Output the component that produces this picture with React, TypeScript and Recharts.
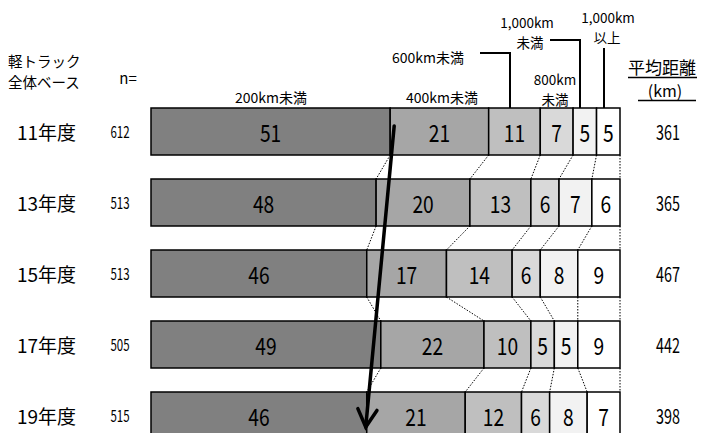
import { Bar, BarChart, LabelList, XAxis, YAxis } from 'recharts'

const years = ['11年度', '13年度', '15年度', '17年度', '19年度']
const sampleN = [612, 513, 513, 505, 515]
const avgKm = [361, 365, 467, 442, 398]
const under200 = [51, 48, 46, 49, 46]
const under400 = [21, 20, 17, 22, 21]
const under600 = [11, 13, 14, 10, 12]
const under800 = [7, 6, 6, 5, 6]
const under1000 = [5, 7, 8, 5, 8]
const over1000 = [5, 6, 9, 9, 7]

const segKeys = ['s200', 's400', 's600', 's800', 's1000', 's1000p']
const segColors = ['#808080', '#a6a6a6', '#bfbfbf', '#d9d9d9', '#f2f2f2', '#ffffff']

type Row = { year: string; n: number; avg: number; [k: string]: string | number }

const rows: Row[] = years.map((year, i) => ({
  year,
  n: sampleN[i],
  avg: avgKm[i],
  s200: under200[i],
  s400: under400[i],
  s600: under600[i],
  s800: under800[i],
  s1000: under1000[i],
  s1000p: over1000[i],
}))

const W = 703
const H = 460
const M = { top: 96, right: 0, left: 0, bottom: 9 }
const STEP = (H - M.top - M.bottom) / rows.length

const FONT = "'Noto Sans CJK JP', 'Noto Sans', sans-serif"

const cumTo = (r: Row, k: number) =>
  segKeys.slice(0, k + 1).reduce((s, key) => s + (r[key] as number), 0)

// narrow digits like the original's gothic font
function NarrowText({ x, y, size, sx = 0.78, anchor = 'middle', children }: any) {
  return (
    <g transform={`translate(${x},${y}) scale(${sx},1)`}>
      <text x={0} y={0} dominantBaseline="central" textAnchor={anchor} fontSize={size} fill="#000" fontFamily={FONT}>
        {children}
      </text>
    </g>
  )
}

function makeShape(k: number) {
  return function SegShape(props: any) {
    const { x, y, width, height, index, payload } = props
    const ppu = width / (payload[segKeys[k]] as number)
    const left = x + width - cumTo(payload, k) * ppu
    const next = rows[index + 1]
    let arrow = null
    if (k === segKeys.length - 1 && index === 0) {
      const last = rows[rows.length - 1]
      const x1 = left + (payload.s200 as number) * ppu + 4
      const y1 = y + 18
      const x2 = left + (last.s200 as number) * ppu - 1
      const y2 = y + (rows.length - 1) * STEP + 35
      const ang = Math.atan2(y2 - y1, x2 - x1)
      const len = 20
      const spread = 0.5
      const wing = (s: number) => [
        x2 - len * Math.cos(ang + s * spread),
        y2 - len * Math.sin(ang + s * spread),
      ]
      const [ax, ay] = wing(1)
      const [bx, by] = wing(-1)
      arrow = (
        <g stroke="#000" strokeWidth={3.5} fill="none" strokeLinecap="round">
          <line x1={x1} y1={y1} x2={x2} y2={y2} />
          <polyline points={`${ax},${ay} ${x2},${y2} ${bx},${by}`} strokeLinejoin="miter" />
        </g>
      )
    }
    return (
      <g>
        <rect x={x} y={y} width={width} height={height} fill={props.fill} stroke="#000" strokeWidth={1.5} />
        {next && (
          <line
            x1={x + width}
            y1={y + height}
            x2={left + cumTo(next, k) * ppu}
            y2={y + STEP}
            stroke="#000"
            strokeWidth={1}
            strokeDasharray="1.5 1.5"
          />
        )}
        {arrow}
      </g>
    )
  }
}

function LeftTick({ y, payload }: any) {
  const r = rows[payload.index]
  return (
    <g>
      <text x={17} y={y} dominantBaseline="central" fontSize={19} fill="#000" fontFamily={FONT}>
        {payload.value}
      </text>
      <NarrowText x={120} y={y} size={16} sx={0.72}>
        {r.n}
      </NarrowText>
    </g>
  )
}

function RightTick({ y, payload }: any) {
  return (
    <NarrowText x={668} y={y} size={20} sx={0.72}>
      {payload.value}
    </NarrowText>
  )
}

function SegLabel(props: any) {
  const { x, y, width, height, value } = props
  return (
    <NarrowText x={x + width / 2} y={y + height / 2} size={24} sx={0.8}>
      {value}
    </NarrowText>
  )
}

function Header() {
  const t = { fill: '#000', fontFamily: FONT, dominantBaseline: 'central' as const, textAnchor: 'middle' as const }
  return (
    <svg width={W} height={110} style={{ position: 'absolute', left: 0, top: 0, pointerEvents: 'none' }}>
      <text {...t} x={8} y={60} textAnchor="start" fontSize={14.5}>軽トラック</text>
      <text {...t} x={8} y={81} textAnchor="start" fontSize={14.5}>全体ベース</text>
      <text {...t} x={128} y={77} fontSize={15}>n=</text>
      <text {...t} x={271} y={97} fontSize={14}>200km未満</text>
      <text {...t} x={442} y={97} fontSize={14}>400km未満</text>
      <text {...t} x={428} y={57} fontSize={14}>600km未満</text>
      <text {...t} x={555} y={79} fontSize={13.5}>800km</text>
      <text {...t} x={555} y={99} fontSize={13.5}>未満</text>
      <text {...t} x={527} y={22} fontSize={13.5}>1,000km</text>
      <text {...t} x={530} y={42} fontSize={13.5}>未満</text>
      <text {...t} x={608} y={17} fontSize={13.5}>1,000km</text>
      <text {...t} x={607} y={37} fontSize={13.5}>以上</text>
      <text {...t} x={662} y={66} fontSize={17}>平均距離</text>
      <text {...t} x={665} y={90} fontSize={16}>(km)</text>
      <g stroke="#000" strokeWidth={2} fill="none">
        <polyline points="480,53 510,53 510,108" />
        <polyline points="550,40 580,40 580,108" />
        <line x1={604} y1={48} x2={604} y2={108} />
      </g>
      <g stroke="#000" strokeWidth={1.5}>
        <line x1={628} y1={77.5} x2={697} y2={77.5} />
        <line x1={638} y1={100.5} x2={696} y2={100.5} />
      </g>
    </svg>
  )
}

export default function App() {
  return (
    <div style={{ position: 'absolute', left: 0, top: 0, width: W, height: H, background: '#fff', fontFamily: FONT }}>
      <BarChart width={W} height={H} data={rows} layout="vertical" margin={M} barSize={47}>
        <XAxis type="number" domain={[0, 100]} hide />
        <YAxis
          yAxisId="l"
          type="category"
          dataKey="year"
          width={151}
          axisLine={false}
          tickLine={false}
          tick={<LeftTick />}
        />
        <YAxis
          yAxisId="r"
          type="category"
          dataKey="avg"
          orientation="right"
          width={83}
          axisLine={false}
          tickLine={false}
          tick={<RightTick />}
        />
        {segKeys.map((key, k) => (
          <Bar
            key={key}
            yAxisId="l"
            dataKey={key}
            stackId="a"
            fill={segColors[k]}
            shape={makeShape(k)}
            isAnimationActive={false}
          >
            <LabelList dataKey={key} position="center" content={<SegLabel />} />
          </Bar>
        ))}
      </BarChart>
      <Header />
    </div>
  )
}
